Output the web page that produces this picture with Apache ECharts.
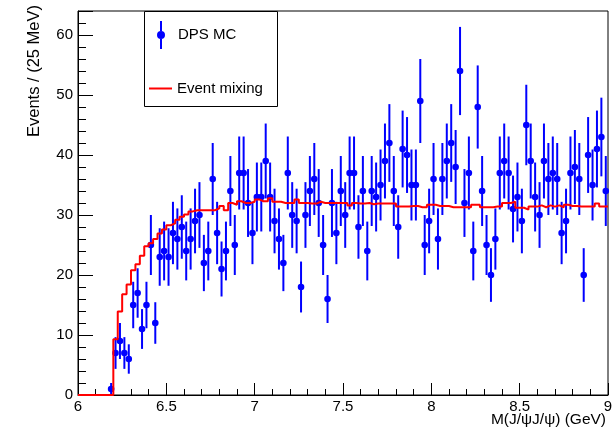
<!DOCTYPE html>
<html>
<head>
<meta charset="utf-8">
<script src="https://cdn.jsdelivr.net/npm/echarts@6/dist/echarts.min.js"></script>
<style>
html,body{margin:0;padding:0;background:#fff;}
#chart{width:613px;height:428px;}
</style>
</head>
<body>
<div id="chart"></div>
<script>
// Histogram binning: 6.0 - 9.0 GeV, 25 MeV bins (120 bins)
const binLow = 6.0;
const binWidth = 0.025;
const nBins = 120;

// Axis ticks
const xTicks = [6, 6.5, 7, 7.5, 8, 8.5, 9];
const yTicks = [0, 10, 20, 30, 40, 50, 60];

// DPS MC counts per bin (null = empty bin)
const dpsCounts = [
  null, null, null, null, null, null, null,
  1,
  7, 9, 7, 6,
  15, 17, 11, 15, 25, 12, 23, 24,
  23, 27, 26, 28, 24, 26, 29, 30, 22, 24,
  36, 27, 21, 24, 34, 25, 37, 37, 32, 27,
  33, 33, 39, 33, 29, 26, 22, 37, 30, 29,
  18, 30, 34, 36, 32, 25, 16, 32, 27, 34,
  30, 37, 37, 28, 34, 24, 34, 33, 35, 39,
  42, 34, 28, 41, 40, 35, 35, 49, 25, 29,
  36, 26, 36, 39, 42, 38, 54, 32, 37, 24,
  48, 34, 25, 20, 26, 37, 39, 37, 31, 33,
  29, 45, 39, 33, 30, 39, 36, 37, 36, 27,
  29, 37, 38, 36, 20, 40, 35, 41, 43, 34
];

// Event mixing template per bin
const mixing = [
  0, 0, 0, 0, 0, 0, 0, 0,
  9.3, 13.9, 16.8, 18.4, 20.8, 21.8, 23.2, 24.8,
  25.3, 26, 26.9, 27.6, 28.3, 28.6, 29.2, 29.7,
  30.1, 30.6, 30.8, 30.8, 30.8, 30.8, 30.8, 31.1,
  31.5, 30.8, 32, 31.7, 32.3, 32, 32, 32.2,
  32.6, 32.3, 32.3, 32.8, 32.2, 32.2, 32, 32,
  32, 32.6, 32, 32, 31.9, 31.9, 32.2, 32,
  32, 32, 32, 32, 32, 31.6, 32, 31.9,
  31.9, 32, 31.8, 31.9, 31.9, 31.9, 31.9, 31.9,
  31.4, 31.4, 31.4, 31.5, 31.5, 31.3, 31.3, 31.7,
  31.7, 31.5, 31.5, 31.5, 31.3, 31.3, 31.3, 31.3,
  31.3, 31.7, 31.7, 31.3, 31.3, 31.3, 31.4, 31.4,
  32, 32, 32.2, 31.2, 31.2, 30.9, 31.4, 31.4,
  31.6, 31.3, 31.6, 31.4, 31.6, 31.3, 31.7, 31.5,
  31.5, 31.4, 31.4, 31.4, 31.4, 31.9, 31.4, 31.4
];

const FONT = '"Liberation Sans", Arial, Helvetica, sans-serif';

// points with Poisson errors at bin centres
const dpsData = [];
dpsCounts.forEach(function (c, i) {
  if (c === null) return;
  dpsData.push([binLow + binWidth * (i + 0.5), c, Math.sqrt(c)]);
});

// step histogram from bin low edges, closing at the upper edge
const mixData = mixing.map(function (v, i) { return [binLow + binWidth * i, v]; });
mixData.push([binLow + binWidth * nBins, mixing[nBins - 1]]);

const chart = echarts.init(document.getElementById('chart'), null, {renderer: 'canvas'});

chart.setOption({
  animation: false,
  backgroundColor: '#ffffff',
  textStyle: {fontFamily: FONT},
  grid: {
    left: 78, right: 5, top: 11, bottom: 33,
    containLabel: false,
    outerBoundsMode: 'none',
    show: true, borderColor: '#000', borderWidth: 1, backgroundColor: 'transparent'
  },
  graphic: [
    {
      type: 'rect', z: 3,
      shape: {x: 144.5, y: 11.5, width: 133, height: 95},
      style: {fill: '#ffffff', stroke: '#000', lineWidth: 1}
    }
  ],
  legend: [
    {
      data: [{name: 'DPS MC', icon: 'path://M0,14A4,4,0,1,0,8,14A4,4,0,1,0,0,14Z M3,0L5,0L5,10L3,10Z M3,18L5,18L5,28L3,28Z'}],
      left: 157, top: 21, padding: 0,
      itemWidth: 24, itemHeight: 28,
      symbolKeepAspect: true,
      selectedMode: false,
      textStyle: {fontSize: 15, color: '#000', fontFamily: FONT}
    },
    {
      data: [{name: 'Event mixing', icon: 'rect'}],
      left: 149, top: 81, padding: 0,
      itemWidth: 23, itemHeight: 2,
      selectedMode: false,
      textStyle: {fontSize: 15, color: '#000', fontFamily: FONT}
    }
  ],
  xAxis: {
    type: 'value',
    min: xTicks[0], max: xTicks[xTicks.length - 1], interval: 0.5,
    name: 'M(J/\u03c8J/\u03c8) (GeV)',
    nameLocation: 'end', nameGap: 0,
    nameMoveOverlap: false,
    nameTextStyle: {align: 'right', verticalAlign: 'top', padding: [17, 2, 0, 0], fontSize: 15.5, color: '#000', fontFamily: FONT},
    axisLine: {onZero: false, lineStyle: {color: '#000', width: 1}},
    axisTick: {inside: true, length: 12, lineStyle: {color: '#000', width: 1}},
    minorTick: {show: true, splitNumber: 5, length: 6, lineStyle: {color: '#000', width: 1}},
    splitLine: {show: false},
    minorSplitLine: {show: false},
    axisLabel: {margin: 4, fontSize: 15, color: '#000', fontFamily: FONT}
  },
  yAxis: [
    {
      type: 'value',
      min: 0, max: 64, interval: 10,
      name: 'Events / (25 MeV)',
      nameLocation: 'end', nameRotate: 90, nameGap: 6,
      nameMoveOverlap: false,
      nameTextStyle: {align: 'right', verticalAlign: 'bottom', padding: [0, 0, 35, 0], fontSize: 16.5, color: '#000', fontFamily: FONT},
      axisLine: {onZero: false, lineStyle: {color: '#000', width: 1}},
      axisTick: {inside: true, length: 15, lineStyle: {color: '#000', width: 1}},
      splitLine: {show: false},
      axisLabel: {
        margin: 5, fontSize: 15, color: '#000', fontFamily: FONT,
        formatter: function (v) { return yTicks.indexOf(v) >= 0 ? String(v) : ''; }
      }
    },
    {
      type: 'value',
      min: 0, max: 64, interval: 2,
      position: 'left',
      axisLine: {show: false, onZero: false},
      axisTick: {inside: true, length: 8, lineStyle: {color: '#000', width: 1}},
      axisLabel: {show: false},
      splitLine: {show: false}
    }
  ],
  series: [
    {
      name: 'DPS MC',
      type: 'custom',
      xAxisIndex: 0, yAxisIndex: 0,
      color: '#0000ff',
      itemStyle: {color: '#0000ff'},
      z: 2,
      data: dpsData,
      encode: {x: 0, y: 1},
      renderItem: function (params, api) {
        const x = api.value(0), y = api.value(1), e = api.value(2);
        const p = api.coord([x, y]);
        const lo = api.coord([x, y - e]);
        const hi = api.coord([x, y + e]);
        return {
          type: 'group',
          children: [
            {type: 'line', shape: {x1: p[0], y1: lo[1], x2: p[0], y2: hi[1]}, style: {stroke: '#0000ff', lineWidth: 2}},
            {type: 'circle', shape: {cx: p[0], cy: p[1], r: 3.3}, style: {fill: '#0000ff'}}
          ]
        };
      }
    },
    {
      name: 'Event mixing',
      type: 'line',
      xAxisIndex: 0, yAxisIndex: 0,
      step: 'end',
      symbol: 'none',
      showSymbol: false,
      color: '#ff0000',
      itemStyle: {color: '#ff0000'},
      lineStyle: {color: '#ff0000', width: 2},
      z: 3,
      data: mixData
    }
  ]
});
</script>
</body>
</html>
